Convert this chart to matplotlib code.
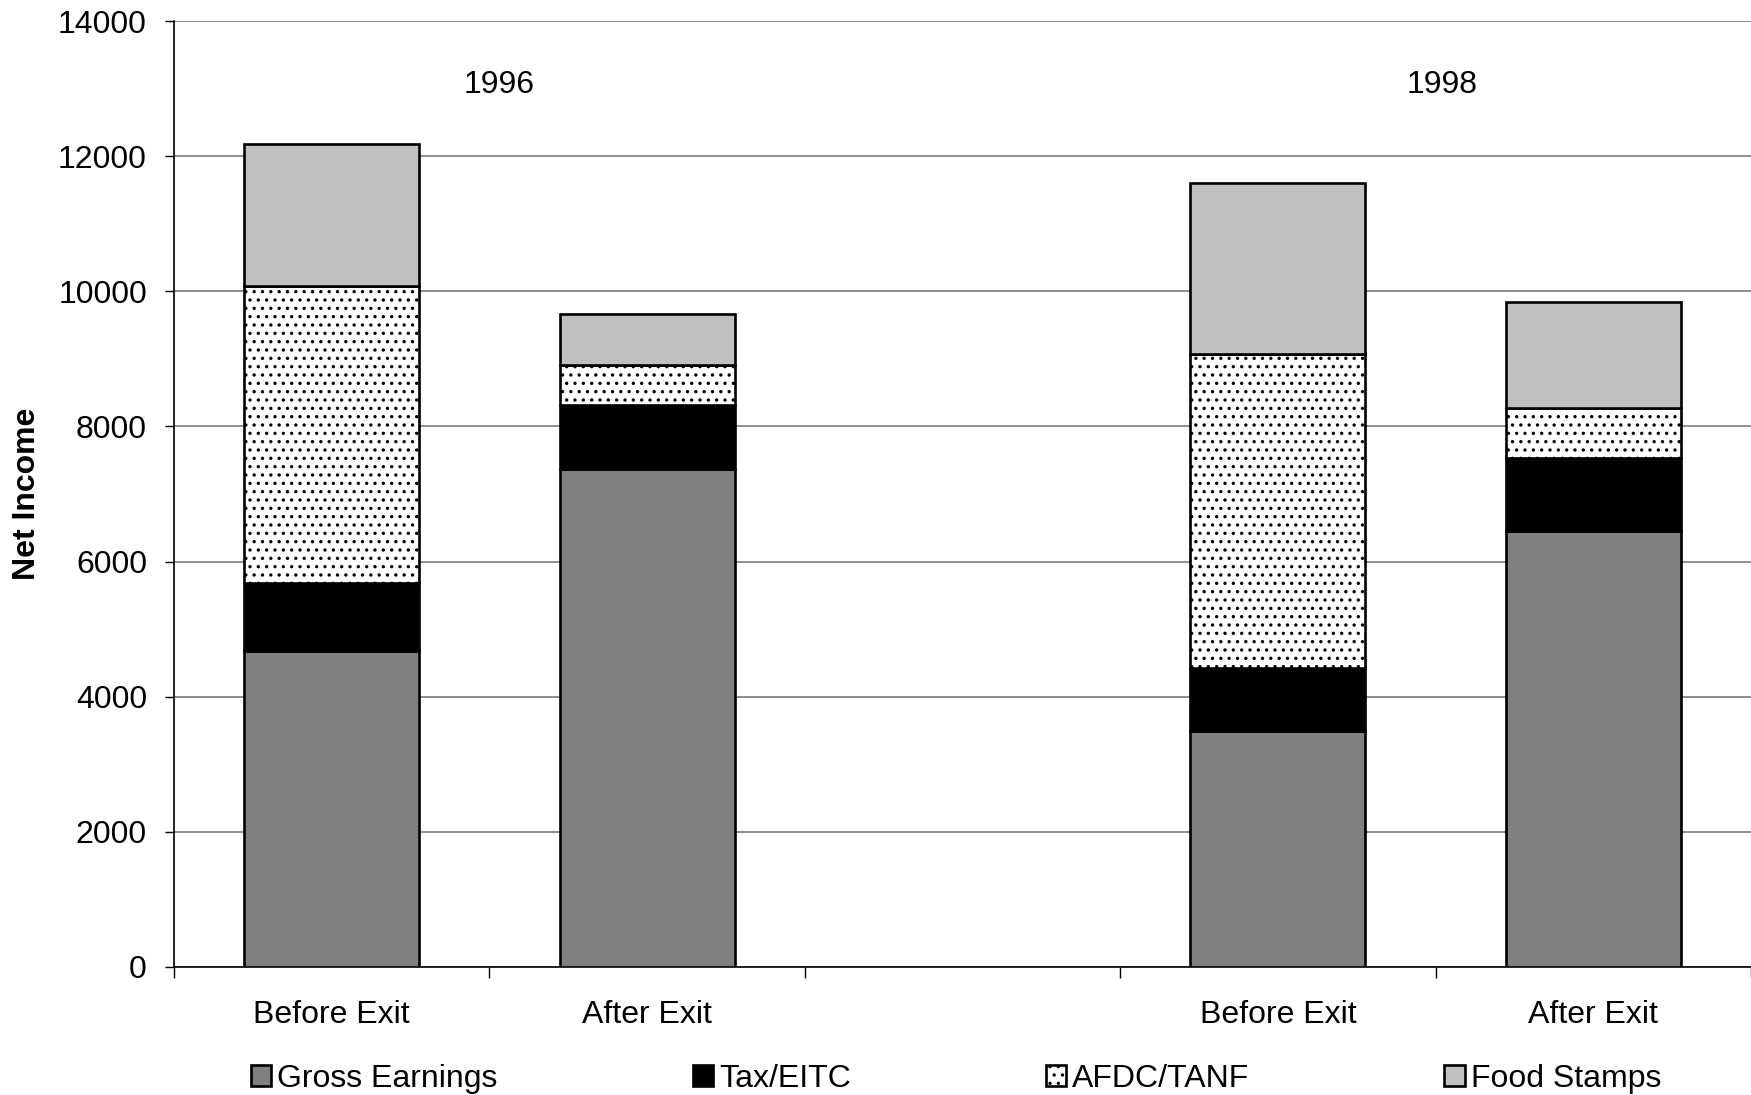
import matplotlib
matplotlib.use("Agg")
import matplotlib.pyplot as plt
import numpy as np

plt.rcParams['font.family'] = ['Liberation Sans', 'DejaVu Sans']
plt.rcParams['hatch.linewidth'] = 1.2

categories = ["Before Exit", "After Exit", "", "Before Exit", "After Exit"]
years = ["1996", "1998"]
series_names = ["Gross Earnings", "Tax/EITC", "AFDC/TANF", "Food Stamps"]
gross = [4680, 7370, np.nan, 3490, 6450]
tax = [1000, 940, np.nan, 940, 1090]
afdc = [4400, 600, np.nan, 4640, 730]
food = [2100, 760, np.nan, 2530, 1570]

colors = ["#808080", "#000000", "#ffffff", "#c0c0c0"]
hatches = [None, None, "..", None]

fig = plt.figure(figsize=(17.51, 10.95), dpi=100)
ax = fig.add_axes([0.0994, 0.1169, 0.9006, 0.8639])

x = np.arange(len(categories)) + 0.5
bottom = np.zeros(len(categories))
handles = []
for vals, col, h, name in zip([gross, tax, afdc, food], colors, hatches, series_names):
    v = np.array(vals, dtype=float)
    mask = ~np.isnan(v)
    b = ax.bar(x[mask], v[mask], bottom=bottom[mask], width=0.555, color=col,
               edgecolor="black", linewidth=1.9, hatch=h, label=name, zorder=3)
    handles.append(b)
    bottom[mask] += v[mask]

ax.set_xlim(0, 5)
ax.set_ylim(0, 14000)
ax.set_yticks(np.arange(0, 14001, 2000))
ax.yaxis.grid(True, color="#7a7a7a", linewidth=1.2, zorder=0)
ax.set_axisbelow(True)
for s in ["top", "right"]:
    ax.spines[s].set_visible(False)
ax.spines["left"].set_linewidth(1.2)
ax.spines["bottom"].set_linewidth(1.2)

ax.set_xticks(np.arange(0, 6))
ax.set_xticklabels([])
ax.set_xticks(x[[0, 1, 3, 4]], minor=True)
ax.set_xticklabels([categories[i] for i in [0, 1, 3, 4]], minor=True)
ax.tick_params(axis="x", which="major", length=8, width=1, direction="out")
ax.tick_params(axis="x", which="minor", length=0, pad=23.5, labelsize=23)
ax.tick_params(axis="y", length=6.5, width=1, pad=13, labelsize=23)

ax.set_ylabel("Net Income", fontsize=23, fontweight="bold")
ax.yaxis.label.set_va("center")
ax.yaxis.set_label_coords(-0.0932, 0.5)

ax.text(1.03, 13050, years[0], fontsize=23, ha="center", va="center")
ax.text(4.02, 13050, years[1], fontsize=23, ha="center", va="center")

leg = fig.legend(handles=handles, labels=series_names, loc="center",
                 bbox_to_anchor=(0.546, 1 - 1079 / 1095), ncol=4, frameon=False,
                 fontsize=23, handlelength=0.63, handleheight=0.63,
                 handletextpad=0.2, columnspacing=6.1, borderaxespad=0)

fig.savefig("out.png", dpi=100)
